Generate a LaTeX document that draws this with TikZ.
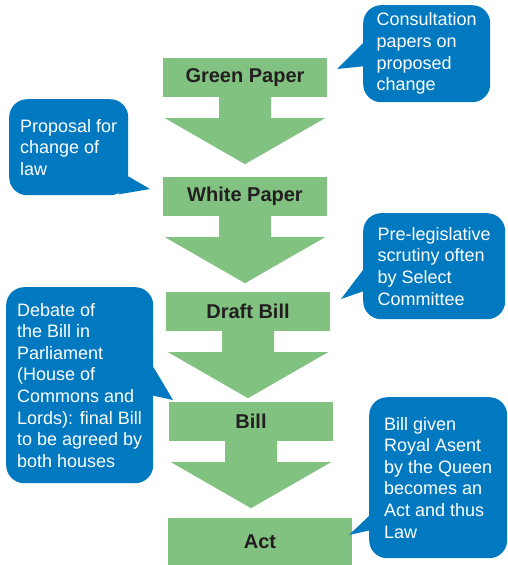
\documentclass[tikz,border=0pt]{standalone}
\usepackage{fontspec}
\setmainfont{Liberation Sans}
\usepackage{xcolor}
\usetikzlibrary{calc}
\definecolor{stagegreen}{RGB}{129,194,129}
\definecolor{noteblue}{RGB}{0,121,193}
\definecolor{labelink}{RGB}{35,31,32}
\tikzset{
    stage/.style={fill=stagegreen, minimum width=164pt, minimum height=39pt, inner sep=0pt, text=labelink, font=\fontsize{20}{24}\selectfont\bfseries},
    note/.style={fill=noteblue, rounded corners=18pt, text=white, align=left, inner sep=0pt, anchor=north west, font=\fontsize{18}{21.6}\selectfont},
    flow/.style={fill=stagegreen}
}

\begin{document}
\begin{tikzpicture}[x=1pt,y=-1pt]
    \useasboundingbox (0,0) rectangle (507,565);
    \node[stage] (green) at (245,77.5) {Green Paper};
    \node[stage] (white) at (245,196.5) {White Paper};
    \node[stage] (draft) at (248,311.5) {Draft Bill};
    \node[stage] (bill) at (251,421.5) {Bill};
    \node[stage, minimum width=184pt, minimum height=47pt] (act) at (260,541.5) {Act};
    \foreach \s in {green,white,draft,bill}
        \fill[flow] ($(\s.south)+(-26,0)$) -- ++(0,21) -- ++(-54,0) -- ($(\s.south)+(0,67)$)
            -- ($(\s.south)+(80,21)$) -- ++(-54,0) -- ++(0,-21) -- cycle;
    \node[note, minimum width=127pt, minimum height=97pt] (consult) at (363,5) {Consultation\\papers on\\proposed\\change};
    \coordinate (consultTip) at (337,69);
    \fill[noteblue] ($(consult.north west)+(0,38)$) -- (consultTip) -- ($(consult.north west)+(3,61)$) -- cycle;
    \node[note, minimum width=119pt, minimum height=96pt] (proposal) at (9,99) {Proposal for\\change of\\law};
    \coordinate (proposalTip) at (150,189);
    \fill[noteblue] ($(proposal.south east)+(0,-19)$) -- (proposalTip) -- ($(proposal.south east)+(-10,-1)$) -- cycle;
    \node[note, minimum width=142pt, minimum height=106pt] (scrutiny) at (363,213) {Pre-legislative\\scrutiny often\\by Select\\Committee};
    \coordinate (scrutinyTip) at (341,299);
    \fill[noteblue] ($(scrutiny.north west)+(0,57)$) -- (scrutinyTip) -- ($(scrutiny.north west)+(4,77)$) -- cycle;
    \node[note, minimum width=147pt, minimum height=196pt] (debate) at (6,287) {Debate of\\the Bill in\\Parliament\\(House of\\Commons and\\Lords): final Bill\\to be agreed by\\both houses};
    \coordinate (debateTip) at (173,400);
    \fill[noteblue] ($(debate.north east)+(0,80)$) -- (debateTip) -- ($(debate.north east)+(-3,108)$) -- cycle;
    \node[note, minimum width=138pt, minimum height=161pt] (assent) at (369,397) {Bill given\\Royal Asent\\by the Queen\\becomes an\\Act and thus\\Law};
    \coordinate (assentTip) at (349,535);
    \fill[noteblue] ($(assent.north west)+(0,119)$) -- (assentTip) -- ($(assent.north west)+(2,133)$) -- cycle;
\end{tikzpicture}
\end{document}
